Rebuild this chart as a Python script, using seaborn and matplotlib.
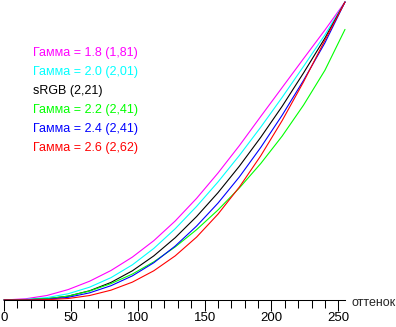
import matplotlib
matplotlib.use("Agg")
import matplotlib.pyplot as plt
import seaborn as sns

# shade (0..255) vs relative brightness
shades = [0, 16, 32, 48, 64, 80, 96, 112, 128, 144, 160, 176, 192, 208, 224, 240, 255]

gamma_18 = [0, 0.004, 0.015, 0.035, 0.063, 0.099, 0.144, 0.199, 0.265, 0.341, 0.426, 0.518, 0.616, 0.713, 0.810, 0.906, 1.0]
gamma_20 = [0, 0.002, 0.008, 0.021, 0.043, 0.075, 0.118, 0.173, 0.239, 0.314, 0.396, 0.485, 0.580, 0.680, 0.784, 0.890, 1.0]
srgb = [0, 0.001, 0.004, 0.013, 0.031, 0.059, 0.098, 0.148, 0.209, 0.280, 0.360, 0.449, 0.546, 0.650, 0.762, 0.879, 1.0]
gamma_22 = [0, 0.001, 0.004, 0.013, 0.030, 0.055, 0.087, 0.128, 0.178, 0.236, 0.302, 0.376, 0.458, 0.550, 0.654, 0.771, 0.908]
gamma_24 = [0, 0.0, 0.002, 0.009, 0.024, 0.048, 0.081, 0.125, 0.181, 0.248, 0.325, 0.413, 0.512, 0.620, 0.737, 0.863, 1.0]
gamma_26 = [0, 0.0, 0.001, 0.005, 0.015, 0.033, 0.060, 0.098, 0.148, 0.211, 0.288, 0.379, 0.484, 0.602, 0.732, 0.872, 1.0]

series = [gamma_18, gamma_20, srgb, gamma_22, gamma_24, gamma_26]
labels = ["Гамма = 1.8 (1,81)", "Гамма = 2.0 (2,01)", "sRGB (2,21)",
          "Гамма = 2.2 (2,41)", "Гамма = 2.4 (2,41)", "Гамма = 2.6 (2,62)"]
colors = ["#ff00ff", "#00ffff", "#000000", "#00ff00", "#0000ff", "#ff0000"]

sns.set_style("white")
plt.rcParams['font.family'] = ['Liberation Sans', 'DejaVu Sans']

W, H = 396, 327
fig = plt.figure(figsize=(W / 100, H / 100), dpi=100)
ax = fig.add_axes([4 / W, 27 / H, 341 / W, 298 / H])

for vals, c in zip(series, colors):
    sns.lineplot(x=shades, y=vals, color=c, lw=0.8, ax=ax, clip_on=False, legend=False)

ax.set_xlim(0, 255)
ax.set_ylim(0, 1)
ax.set_xticks(range(0, 251, 50))
ax.set_xticks(range(0, 251, 10), minor=True)
ax.set_yticks([])
ax.tick_params(axis='x', which='major', length=8, width=0.75, direction='out',
               pad=0.8, labelsize=9.5, colors='black', bottom=True)
ax.tick_params(axis='x', which='minor', length=5.4, width=0.75, direction='out',
               colors='black', bottom=True)
for s in ['left', 'top', 'right']:
    ax.spines[s].set_visible(False)
ax.spines['bottom'].set_color('black')
ax.spines['bottom'].set_linewidth(0.75)
ax.set_xlabel('')
ax.set_ylabel('')

for i, (lab, c) in enumerate(zip(labels, colors)):
    fig.text(33 / W, 1 - (56 + 19 * i) / H, lab, color=c, fontsize=9, va='baseline')

fig.text(352 / W, 1 - 306 / H, 'оттенок', fontsize=9, va='baseline')

fig.savefig("out.png", dpi=100)
